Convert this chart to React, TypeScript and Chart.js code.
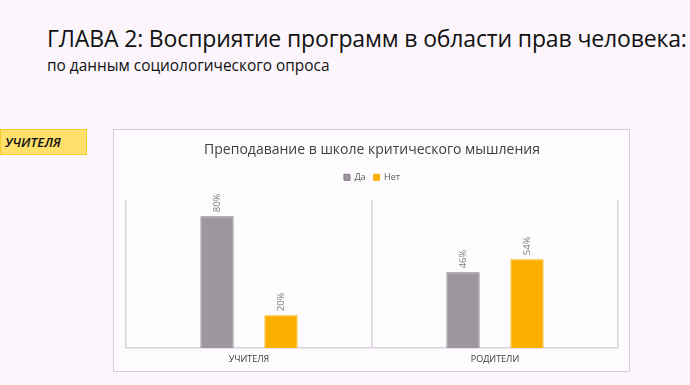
import React, { useEffect, useRef } from "react";
import { Chart, registerables } from "chart.js";

Chart.register(...registerables);

const pageTitle = "ГЛАВА 2: Восприятие программ в области прав человека:";
const pageSubtitle = "по данным социологического опроса";
const tagLabel = "УЧИТЕЛЯ";
const chartTitle = "Преподавание в школе критического мышления";
const categories = ["УЧИТЕЛЯ", "РОДИТЕЛИ"];
const seriesNames = ["Да", "Нет"];
const yesValues = [80, 46];
const noValues = [20, 54];

const valueLabelPlugin = {
  id: "valueLabels",
  afterDatasetsDraw(chart: any) {
    const ctx = chart.ctx;
    ctx.save();
    ctx.fillStyle = "#808080";
    ctx.font = "9.5px 'Open Sans', sans-serif";
    ctx.textAlign = "left";
    ctx.textBaseline = "middle";
    chart.data.datasets.forEach((ds: any, i: number) => {
      const meta = chart.getDatasetMeta(i);
      meta.data.forEach((bar: any, j: number) => {
        const v = ds.data[j];
        ctx.save();
        ctx.translate(bar.x, bar.y - 4);
        ctx.rotate(-Math.PI / 2);
        ctx.fillText(v + "%", 0, 0);
        ctx.restore();
      });
    });
    ctx.restore();
  },
};

const legendSpacingPlugin = {
  id: "legendSpacing",
  beforeInit(chart: any) {
    const legend = chart.legend;
    if (!legend) return;
    const origFit = legend.fit;
    legend.fit = function () {
      origFit.call(this);
      this.height += 8;
    };
  },
};

export default function App() {
  const ref = useRef<HTMLCanvasElement>(null);
  useEffect(() => {
    if (!ref.current) return;
    const chart = new Chart(ref.current, {
      type: "bar",
      data: {
        labels: categories,
        datasets: [
          {
            label: seriesNames[0],
            data: yesValues,
            backgroundColor: "#9d989f",
            borderColor: "#7d787f",
            borderWidth: 1,
            categoryPercentage: 0.52,
            barPercentage: 0.52,
          },
          {
            label: seriesNames[1],
            data: noValues,
            backgroundColor: "#fbb000",
            borderColor: "#fbb000",
            borderWidth: 1,
            categoryPercentage: 0.52,
            barPercentage: 0.52,
          },
        ],
      },
      options: {
        animation: false,
        responsive: false,
        maintainAspectRatio: false,
        layout: { padding: { left: 12, right: 11, top: 12, bottom: 0 } },
        plugins: {
          title: {
            display: true,
            text: chartTitle,
            color: "#404040",
            font: { family: "'Open Sans', sans-serif", size: 14, weight: "normal" },
            padding: { top: 0, bottom: 6 },
          },
          legend: {
            display: true,
            labels: {
              color: "#595959",
              font: { family: "'Open Sans', sans-serif", size: 9 },
              boxWidth: 6,
              boxHeight: 6,
              padding: 8,
            },
          },
          tooltip: { enabled: false },
        },
        scales: {
          x: {
            grid: {
              display: true,
              offset: true,
              color: "#d6d2d8",
              lineWidth: 1.5,
              drawTicks: false,
            },
            border: { display: true, color: "#d6d2d8", width: 1.5 },
            ticks: {
              color: "#404040",
              font: { family: "'Open Sans', sans-serif", size: 9 },
              padding: 6,
            },
          },
          y: {
            display: false,
            min: 0,
            max: 90,
          },
        },
      },
      plugins: [valueLabelPlugin, legendSpacingPlugin],
    });
    return () => chart.destroy();
  }, []);

  return (
    <div
      style={{
        position: "fixed",
        inset: 0,
        background: "#fcf6fc",
        fontFamily: "'Open Sans', sans-serif",
      }}
    >
      <div
        style={{
          position: "absolute",
          left: 47,
          top: 22,
          fontSize: 23,
          color: "#111",
          whiteSpace: "nowrap",
          letterSpacing: -0.15,
        }}
      >
        {pageTitle}
      </div>
      <div
        style={{
          position: "absolute",
          left: 47,
          top: 55,
          fontSize: 15.4,
          color: "#111",
          whiteSpace: "nowrap",
        }}
      >
        {pageSubtitle}
      </div>
      <div
        style={{
          position: "absolute",
          left: 0,
          top: 129,
          width: 81,
          height: 24,
          background: "#fee06a",
          border: "1px solid #f7cc2c",
          fontStyle: "italic",
          fontWeight: 600,
          fontSize: 13,
          color: "#111",
          lineHeight: "24px",
          paddingLeft: 4,
          boxSizing: "content-box",
        }}
      >
        {tagLabel}
      </div>
      <div
        style={{
          position: "absolute",
          left: 113,
          top: 129,
          width: 515,
          height: 241,
          background: "#fefbfe",
          border: "1px solid #d3ced6",
        }}
      >
        <canvas ref={ref} width={515} height={241} style={{ display: "block" }} />
      </div>
    </div>
  );
}
